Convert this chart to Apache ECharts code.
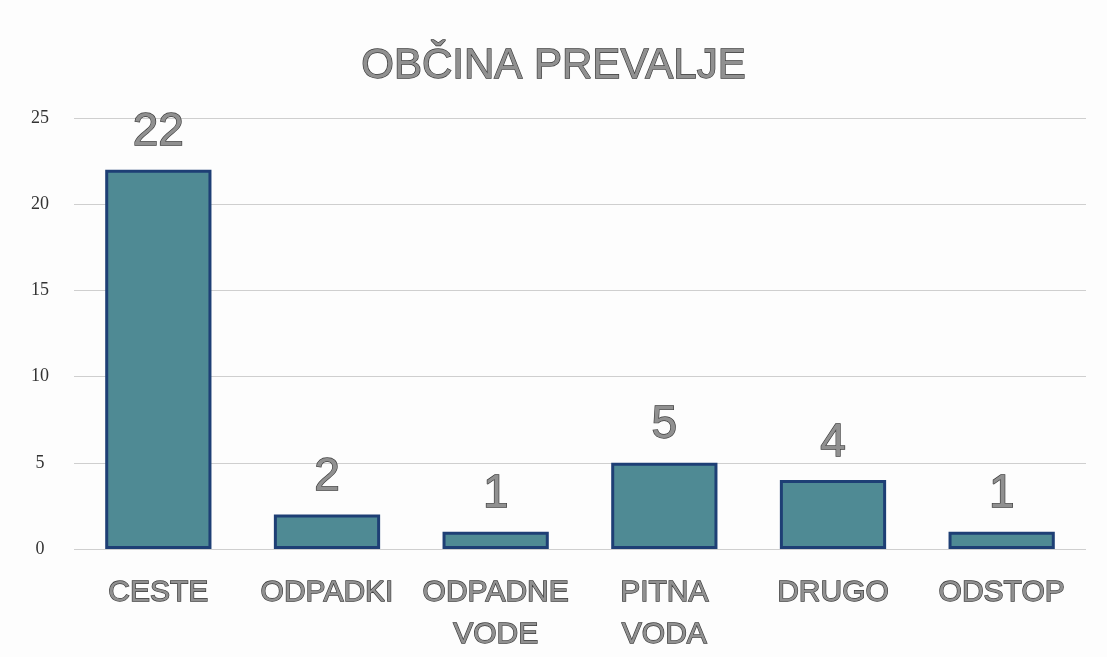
<!DOCTYPE html>
<html lang="sl">
<head>
  <meta charset="UTF-8">
  <title>Občina Prevalje</title>
  <style>
    html, body { margin: 0; padding: 0; background: #fdfdfd; }
    #chart { width: 1107px; height: 657px; }
  </style>
</head>
<body>
  <div id="chart"></div>
  <script src="https://cdn.jsdelivr.net/npm/echarts@6/dist/echarts.min.js"></script>
  <script>
    const categories = ['CESTE', 'ODPADKI', 'ODPADNE\nVODE', 'PITNA\nVODA', 'DRUGO', 'ODSTOP']
    const values = [22, 2, 1, 5, 4, 1]
    const yTicks = [0, 5, 10, 15, 20, 25]

    // scanned look: grey letters with a dark outline
    const outlined = {
      fontFamily: 'Liberation Sans',
      fontWeight: 'normal',
      color: '#909090',
      textBorderColor: '#3c3c3c',
      textBorderWidth: 1.3
    }

    const chart = echarts.init(document.getElementById('chart'))
    chart.setOption({
      backgroundColor: '#fdfdfd',
      title: {
        text: 'OBČINA PREVALJE',
        left: 'center',
        top: 40,
        textStyle: Object.assign({}, outlined, { fontSize: 42 })
      },
      grid: { left: 74, right: 21, top: 118, bottom: 108 },
      xAxis: {
        type: 'category',
        data: categories,
        axisLine: { show: false },
        axisTick: { show: false },
        axisLabel: Object.assign({}, outlined, {
          interval: 0,
          hideOverlap: false,
          margin: 23,
          fontSize: 30,
          lineHeight: 42
        })
      },
      yAxis: {
        type: 'value',
        min: yTicks[0],
        max: yTicks[yTicks.length - 1],
        interval: 5,
        axisLine: { show: false },
        axisTick: { show: false },
        splitLine: { lineStyle: { color: '#cfcfcf', width: 1 } },
        axisLabel: {
          margin: 34,
          align: 'center',
          fontFamily: 'Liberation Serif',
          fontSize: 18,
          color: '#333'
        }
      },
      series: [{
        type: 'bar',
        data: values,
        barWidth: '63%',
        itemStyle: {
          color: '#4f8a94',
          borderColor: '#1e3f75',
          borderWidth: 3
        },
        label: Object.assign({}, outlined, {
          show: true,
          position: 'top',
          distance: 14,
          fontSize: 46
        })
      }]
    })
  </script>
</body>
</html>
